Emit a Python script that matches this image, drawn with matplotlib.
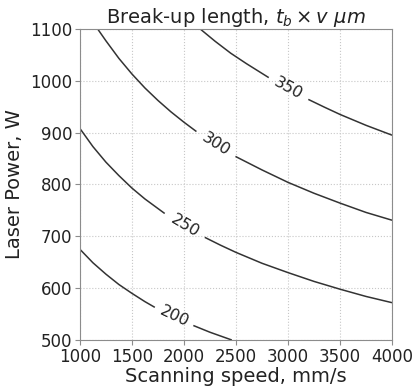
import numpy as np
import matplotlib
matplotlib.use("Agg")
import matplotlib.pyplot as plt

# Contour levels and the points of each contour line
# (each line is split in two where its inline label sits)
levels = [200, 250, 300, 350]

c200_a_x = [1000, 1125, 1250, 1375, 1500, 1625, 1720]
c200_a_y = [675, 649, 627, 607, 590, 574, 563]
c200_b_x = [2090, 2250, 2460]
c200_b_y = [528, 515, 500]

c250_a_x = [1000, 1125, 1250, 1375, 1500, 1625, 1815]
c250_a_y = [908, 873, 843, 817, 793, 772, 744]
c250_b_x = [2200, 2350, 2500, 2750, 3000, 3250, 3500, 3750, 4000]
c250_b_y = [698, 683, 669, 648, 630, 613, 598, 584, 572]

c300_a_x = [1170, 1250, 1375, 1500, 1625, 1750, 1875, 2000, 2120]
c300_a_y = [1100, 1077, 1043, 1013, 986, 962, 940, 920, 902]
c300_b_x = [2495, 2750, 3000, 3250, 3500, 3750, 4000]
c300_b_y = [854, 828, 804, 783, 764, 746, 731]

c350_a_x = [2155, 2300, 2450, 2600, 2815]
c350_a_y = [1100, 1076, 1053, 1033, 1006]
c350_b_x = [3195, 3350, 3500, 3750, 4000]
c350_b_y = [964, 949, 935, 914, 895]

x_ticks = [1000, 1500, 2000, 2500, 3000, 3500, 4000]
y_ticks = [500, 600, 700, 800, 900, 1000, 1100]

lines = {
    200: (c200_a_x, c200_a_y, c200_b_x, c200_b_y),
    250: (c250_a_x, c250_a_y, c250_b_x, c250_b_y),
    300: (c300_a_x, c300_a_y, c300_b_x, c300_b_y),
    350: (c350_a_x, c350_a_y, c350_b_x, c350_b_y),
}

fig = plt.figure(figsize=(4.14, 3.87), dpi=100)
ax = fig.add_axes([0.193, 0.1214, 0.754, 0.804])

ax.set_xlim(1000, 4000)
ax.set_ylim(500, 1100)
ax.set_xticks(x_ticks)
ax.set_yticks(y_ticks)
ax.grid(True, linestyle=':', color='0.78', linewidth=0.8)
ax.set_axisbelow(True)

line_color = '#333333'
for lev in levels:
    ax_, ay_, bx_, by_ = lines[lev]
    ax.plot(ax_, ay_, color=line_color, lw=1.1, solid_capstyle='butt')
    ax.plot(bx_, by_, color=line_color, lw=1.1, solid_capstyle='butt')

fig.canvas.draw()
for lev in levels:
    ax_, ay_, bx_, by_ = lines[lev]
    p0 = ax.transData.transform((ax_[-1], ay_[-1]))
    p1 = ax.transData.transform((bx_[0], by_[0]))
    ang = np.degrees(np.arctan2(p1[1] - p0[1], p1[0] - p0[0]))
    mid = ax.transData.inverted().transform(((p0[0] + p1[0]) / 2, (p0[1] + p1[1]) / 2))
    ax.text(mid[0], mid[1], str(lev), rotation=ang, rotation_mode='anchor',
            ha='center', va='center', fontsize=11.5, color='#222222')

for s in ax.spines.values():
    s.set_color('0.55')
ax.tick_params(colors='0.55', labelcolor='#222222', labelsize=12, length=3.5, pad=2)

ax.set_xlabel('Scanning speed, mm/s', fontsize=14, color='#222222', labelpad=1)
ax.set_ylabel('Laser Power, W', fontsize=14, color='#222222', labelpad=4)
ax.set_title(r'Break-up length, $t_b \times v\ \mu m$', fontsize=14, color='#222222', pad=3)

fig.savefig('out.png', dpi=100)
